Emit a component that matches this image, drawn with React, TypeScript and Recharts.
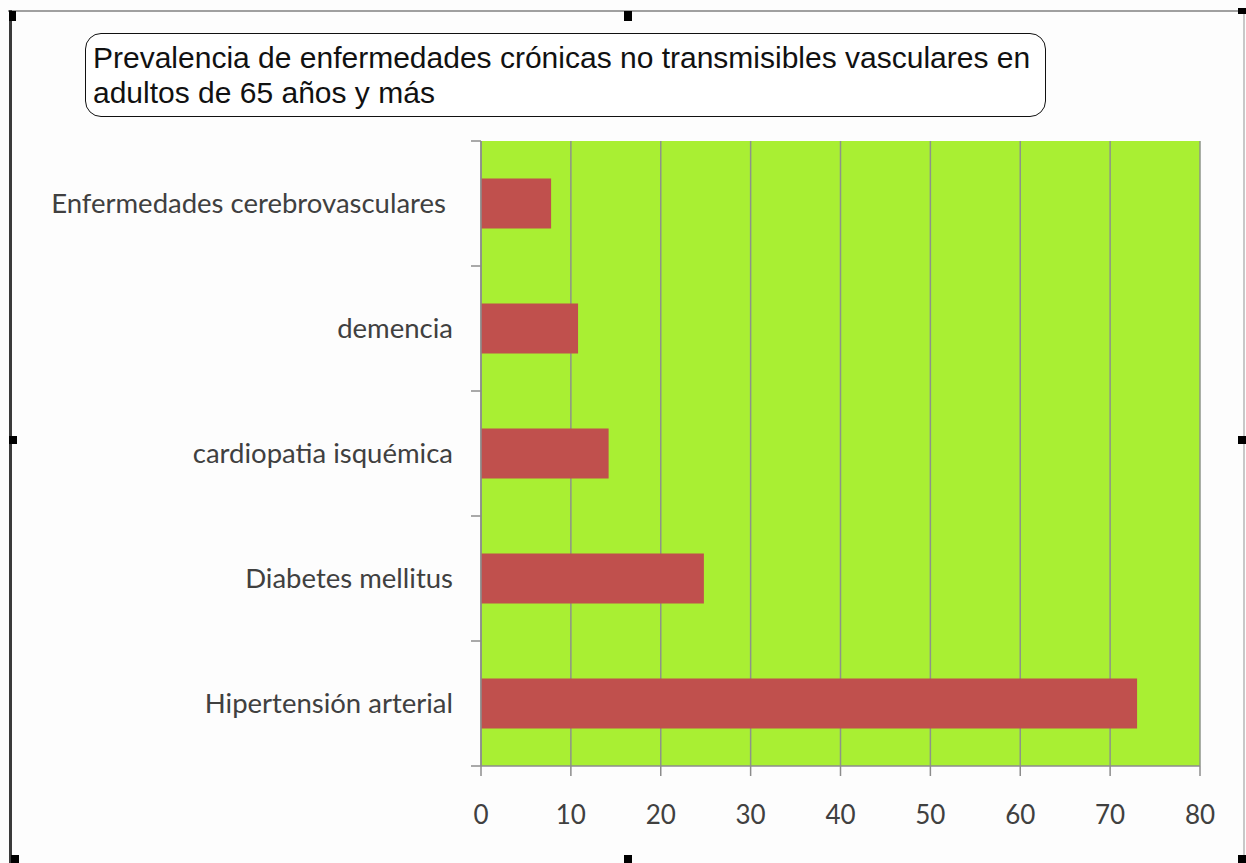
import React from 'react'
import { BarChart, Bar, XAxis, YAxis, CartesianGrid } from 'recharts'

const categories = [
  'Enfermedades cerebrovasculares ',
  'demencia',
  'cardiopatia isquémica',
  'Diabetes mellitus',
  'Hipertensión arterial',
]
const prevalence = [7.8, 10.8, 14.2, 24.8, 73.0]
const xTicks = [0, 10, 20, 30, 40, 50, 60, 70, 80]

const W = 1246
const H = 863
const PLOT_TOP = 141
const PLOT_BOTTOM = 766
const BAND = (PLOT_BOTTOM - PLOT_TOP) / categories.length

const chartData = categories.map((name, i) => ({ name, value: prevalence[i] }))

const CategoryTick = (props: any) => {
  const { x, y, payload, index } = props
  return (
    <g>
      <line x1={x + 18} x2={x + 28} y1={y - BAND / 2} y2={y - BAND / 2} stroke="#8c8c8c" strokeWidth={1.5} />
      {index === categories.length - 1 && (
        <line x1={x + 18} x2={x + 28} y1={y + BAND / 2} y2={y + BAND / 2} stroke="#8c8c8c" strokeWidth={1.5} />
      )}
      <text
        x={x}
        y={y}
        dy="0.36em"
        textAnchor="end"
        fill="#404040"
        fontSize={27.5}
        fontFamily="Lato"
        style={{ whiteSpace: 'pre' }}
      >
        {payload.value}
      </text>
    </g>
  )
}

const handle = (left: number, top: number, w = 8, h = 8) => (
  <div style={{ position: 'absolute', left, top, width: w, height: h, background: '#000' }} />
)

export default function App() {
  return (
    <div style={{ position: 'absolute', left: 0, top: 0, width: W, height: H, background: '#fdfdfd', overflow: 'hidden' }}>
      {/* selection frame */}
      <div style={{ position: 'absolute', left: 8, top: 10, width: W - 8, height: 2, background: '#a0a0a0' }} />
      <div style={{ position: 'absolute', left: 9, top: 10, width: 3, height: H - 10, background: '#3a3a3a' }} />
      <div style={{ position: 'absolute', left: 1243, top: 10, width: 2, height: H - 10, background: '#c8c8c8' }} />
      {handle(9, 11, 7, 10)}
      {handle(624, 11, 8, 10)}
      {handle(1238, 8, 8, 6)}
      {handle(9, 436, 8, 8)}
      {handle(1238, 436, 8, 8)}
      {handle(11, 855, 8, 8)}
      {handle(624, 855, 8, 8)}
      {handle(1238, 855, 8, 8)}

      <div style={{ position: 'absolute', left: 0, top: 0 }}>
        <BarChart
          width={W}
          height={H}
          data={chartData}
          layout="vertical"
          margin={{ top: PLOT_TOP, right: 46, bottom: 37, left: 0 }}
          barCategoryGap="30%"
        >
          <CartesianGrid horizontal={false} stroke="#8e9488" strokeWidth={1.5} fill="#a9ef33" fillOpacity={1} />
          <XAxis
            type="number"
            domain={[0, 80]}
            ticks={xTicks}
            height={60}
            tickSize={10}
            tickMargin={30}
            stroke="#8c8c8c"
            strokeWidth={1.5}
            tick={{ fill: '#404040', fontSize: 26, fontFamily: 'Lato' }}
          />
          <YAxis
            type="category"
            dataKey="name"
            width={481}
            tickSize={10}
            tickMargin={18}
            tickLine={false}
            stroke="#8c8c8c"
            strokeWidth={1.5}
            interval={0}
            tick={<CategoryTick />}
          />
          <Bar dataKey="value" fill="#c0504d" isAnimationActive={false} />
        </BarChart>
      </div>

      {/* title box */}
      <div
        style={{
          position: 'absolute',
          left: 85,
          top: 33,
          width: 961,
          height: 84,
          boxSizing: 'border-box',
          border: '1.5px solid #111',
          borderRadius: 16,
          background: '#fff',
          padding: '6px 0 0 7px',
          fontFamily: '"Liberation Sans", Arial, sans-serif',
          fontSize: 30,
          lineHeight: '35px',
          color: '#111',
          whiteSpace: 'nowrap',
        }}
      >
        Prevalencia de enfermedades crónicas no transmisibles vasculares en
        <br />
        adultos de 65 años y más
      </div>
    </div>
  )
}
